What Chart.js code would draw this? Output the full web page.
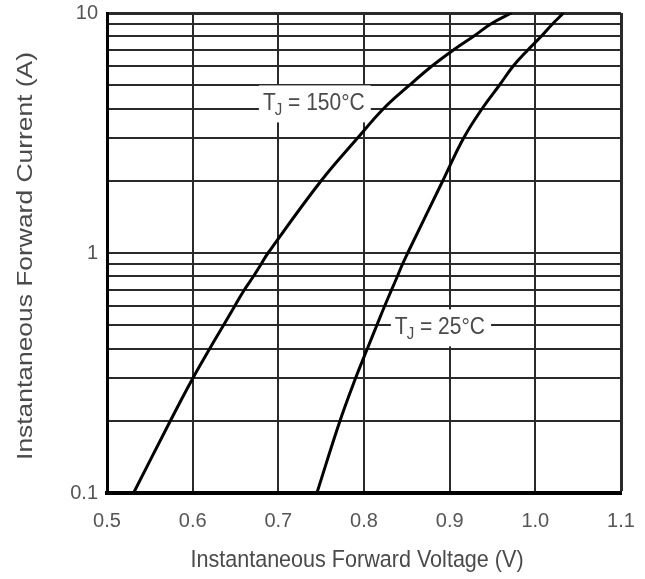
<!DOCTYPE html>
<html>
<head>
<meta charset="utf-8">
<script src="https://cdn.jsdelivr.net/npm/chart.js@4/dist/chart.umd.min.js"></script>
<style>
  html, body { margin: 0; padding: 0; background: #fff; }
  #wrap { width: 645px; height: 579px; }
</style>
</head>
<body>
<div id="wrap"><canvas id="c" width="645" height="579"></canvas></div>
<script>
// ---- data ----
const vf150 = [0.531, 0.574, 0.600, 0.620, 0.636, 0.649, 0.660, 0.671, 0.680, 0.688, 0.750, 0.792, 0.823, 0.853, 0.879, 0.904, 0.928, 0.948, 0.972];
const if150 = [0.1, 0.2, 0.3, 0.4, 0.5, 0.6, 0.7, 0.8, 0.9, 1, 2, 3, 4, 5, 6, 7, 8, 9, 10];
const vf25  = [0.745, 0.772, 0.790, 0.804, 0.815, 0.824, 0.832, 0.839, 0.845, 0.851, 0.892, 0.916, 0.938, 0.958, 0.974, 0.991, 1.007, 1.020, 1.033];
const if25  = [0.1, 0.2, 0.3, 0.4, 0.5, 0.6, 0.7, 0.8, 0.9, 1, 2, 3, 4, 5, 6, 7, 8, 9, 10];
const xTicks = [0.5, 0.6, 0.7, 0.8, 0.9, 1.0, 1.1];
const yGrid = [0.1, 0.2, 0.3, 0.4, 0.5, 0.6, 0.7, 0.8, 0.9, 1, 2, 3, 4, 5, 6, 7, 8, 9, 10];
const yLabels = [0.1, 1, 10];
const seriesNames = ['TJ = 150°C', 'TJ = 25°C'];
const xTitle = 'Instantaneous Forward Voltage (V)';
const yTitle = 'Instantaneous Forward Current (A)';

const FONT = '"Liberation Sans", Arial, Helvetica, sans-serif';
const TEXT = '#4a4a4a';

const toPts = (xs, ys) => xs.map((v, i) => ({ x: v, y: ys[i] }));

// curve labels: white box drawn over grid, then text T_J = ...
const curveLabelPlugin = {
  id: 'curveLabels',
  beforeDatasetsDraw(chart, args, opts) {
    const { ctx } = chart;
    const xs = chart.scales.x, ys = chart.scales.y;
    opts.items.forEach(it => {
      const x0 = xs.getPixelForValue(it.x);
      const cy = ys.getPixelForValue(it.y);
      ctx.save();
      ctx.font = '21px ' + FONT;
      const wT = ctx.measureText('T').width;
      const wPost = ctx.measureText(it.post).width;
      ctx.font = '15px ' + FONT;
      const wJ = ctx.measureText('J').width;
      const total = wT + wJ + wPost;
      ctx.fillStyle = '#fff';
      ctx.fillRect(x0 - 4, cy - 18, total + 9, 37);
      ctx.fillStyle = TEXT;
      ctx.textBaseline = 'middle';
      ctx.textAlign = 'left';
      ctx.translate(x0, cy);
      ctx.scale(1, 1.12);
      ctx.font = '21px ' + FONT;
      ctx.fillText('T', 0, 0);
      ctx.font = '15px ' + FONT;
      ctx.fillText('J', wT - 1, 6);
      ctx.font = '21px ' + FONT;
      ctx.fillText(it.post, wT + wJ - 1, 0);
      ctx.restore();
    });
  }
};

const axisTitlePlugin = {
  id: 'axisTitles',
  afterDraw(chart) {
    const { ctx, chartArea } = chart;
    ctx.save();
    ctx.fillStyle = TEXT;
    ctx.textAlign = 'center';
    ctx.textBaseline = 'middle';
    ctx.font = '22px ' + FONT;
    // x title
    ctx.save();
    ctx.translate((chartArea.left + chartArea.right) / 2 - 7, chartArea.bottom + 67);
    ctx.scale(0.98, 1.12);
    ctx.fillText(xTitle, 0, 0);
    ctx.restore();
    // y title
    ctx.save();
    ctx.translate(26, (chartArea.top + chartArea.bottom) / 2 + 3);
    ctx.rotate(-Math.PI / 2);
    ctx.scale(1.2, 1.0);
    ctx.fillText(yTitle, 0, 0);
    ctx.restore();
    ctx.restore();
  }
};

new Chart(document.getElementById('c'), {
  type: 'scatter',
  data: {
    datasets: [
      { label: seriesNames[0], data: toPts(vf150, if150), showLine: true, borderColor: '#000', borderWidth: 3, pointRadius: 0, tension: 0.4, fill: false },
      { label: seriesNames[1], data: toPts(vf25, if25), showLine: true, borderColor: '#000', borderWidth: 3, pointRadius: 0, tension: 0.4, fill: false }
    ]
  },
  options: {
    responsive: false,
    animation: false,
    devicePixelRatio: 1,
    layout: { padding: { top: 13, right: 24, left: 0, bottom: 0 } },
    plugins: {
      legend: { display: false },
      tooltip: { enabled: false },
      curveLabels: {
        items: [
          { post: ' = 150°C', x: 0.682, y: 4.2 },
          { post: ' = 25°C', x: 0.836, y: 0.49 }
        ]
      }
    },
    scales: {
      x: {
        type: 'linear',
        min: 0.5, max: 1.1,
        afterBuildTicks: s => { s.ticks = xTicks.map(v => ({ value: v })); },
        afterFit: s => { s.height = 86; s.paddingLeft = 0; s.paddingRight = 0; },
        ticks: {
          autoSkip: false, maxRotation: 0,
          padding: 16,
          color: '#555',
          font: { family: FONT, size: 20 },
          callback: v => Number(v).toFixed(1)
        },
        grid: {
          color: '#2a2a2a',
          lineWidth: c => (c.tick && c.tick.value === 1.1 ? 3 : 2),
          drawTicks: false
        },
        border: { display: true, color: '#000', width: 4 }
      },
      y: {
        type: 'logarithmic',
        min: 0.1, max: 10,
        afterBuildTicks: s => { s.ticks = yGrid.map(v => ({ value: v })); },
        afterFit: s => { s.width = 107; s.paddingTop = 0; s.paddingBottom = 0; },
        ticks: {
          autoSkip: false,
          padding: 9,
          color: '#555',
          font: { family: FONT, size: 20 },
          callback: v => (yLabels.some(l => Math.abs(l - v) < 1e-9) ? String(v) : '')
        },
        grid: {
          color: '#2a2a2a',
          lineWidth: c => (c.tick && c.tick.value === 10 ? 3 : 2),
          drawTicks: false
        },
        border: { display: true, color: '#000', width: 3 }
      }
    }
  },
  plugins: [curveLabelPlugin, axisTitlePlugin]
});
</script>
</body>
</html>
